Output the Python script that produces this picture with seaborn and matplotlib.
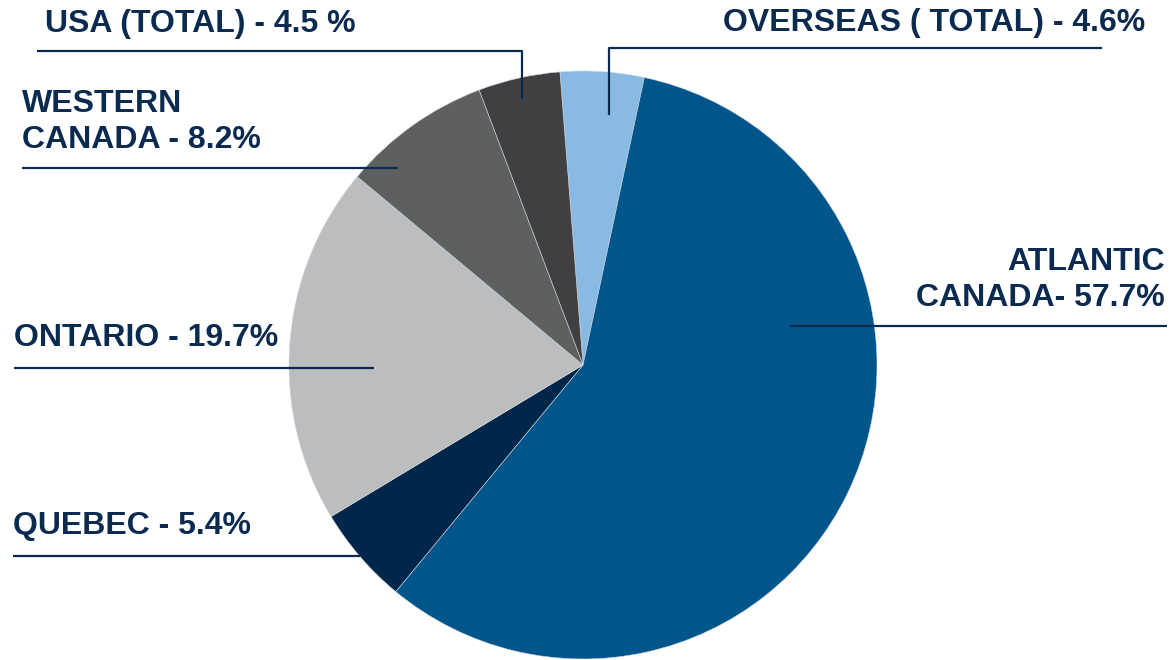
import matplotlib
matplotlib.use("Agg")
import matplotlib.pyplot as plt
import seaborn as sns

sns.set_theme(style="white")
plt.rcParams["font.family"] = ["Liberation Sans", "DejaVu Sans"]

# Share of visitors by origin, in drawing order (clockwise from the top)
regions = ["OVERSEAS ( TOTAL)", "ATLANTIC CANADA", "QUEBEC", "ONTARIO",
           "WESTERN CANADA", "USA (TOTAL)"]
shares = [4.6, 57.7, 5.4, 19.7, 8.2, 4.5]
labels = ["OVERSEAS ( TOTAL) - 4.6%", "ATLANTIC\nCANADA- 57.7%", "QUEBEC - 5.4%",
          "ONTARIO - 19.7%", "WESTERN\nCANADA - 8.2%", "USA (TOTAL) - 4.5 %"]
colors = ["#88BAE3", "#00558A", "#00264A", "#BCBDBF", "#5E5F5F", "#404042"]

W, H = 1170, 660
TEXT = "#0B2A4F"

fig = plt.figure(figsize=(W / 100, H / 100), dpi=100)
ax = fig.add_axes([0, 0, 1, 1])

cx, cy, r = 583, H - 365, 294
ax.pie(shares, colors=colors, startangle=94.5, counterclock=False,
       center=(cx, cy), radius=r, frame=True,
       wedgeprops=dict(linewidth=0.4, edgecolor="#D0D8E0"))
ax.set_xlim(0, W)
ax.set_ylim(0, H)
ax.set_aspect("equal")
ax.axis("off")


def py(y):
    return H - y


def leader(points):
    xs = [p[0] for p in points]
    ys = [py(p[1]) for p in points]
    ax.plot(xs, ys, color=TEXT, lw=1.6, solid_capstyle="butt", zorder=5)


font = dict(fontsize=23, fontweight="bold", color=TEXT, va="center",
            linespacing=1.22, zorder=6)

# label text and leader line for each slice
ax.text(45, py(24), labels[5], ha="left", **font)
leader([(37, 51), (522, 51), (522, 99)])

ax.text(22, py(122), labels[4], ha="left", **font)
leader([(22, 168), (398, 168)])

ax.text(14, py(338), labels[3], ha="left", **font)
leader([(14, 368), (374, 368)])

ax.text(13, py(526), labels[2], ha="left", **font)
leader([(13, 556), (360, 556)])

ax.text(1145, py(23), labels[0], ha="right", **font)
leader([(609, 115), (609, 48), (1102, 48)])

ax.text(1165, py(280), labels[1], ha="right", multialignment="right", **font)
leader([(790, 326), (1167, 326)])

fig.savefig("out.png", dpi=100, facecolor="white")
